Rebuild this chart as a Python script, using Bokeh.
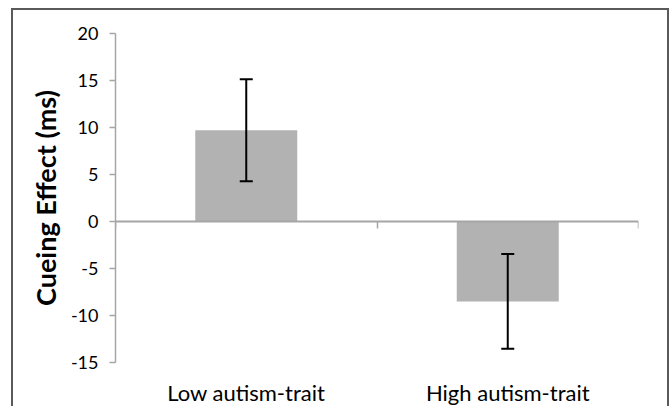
from bokeh.plotting import figure
from bokeh.models import (ColumnDataSource, Range1d, LinearAxis, FixedTicker,
                          SingleIntervalTicker, Whisker, TeeHead, PrintfTickFormatter)
from bokeh.embed import file_html
from bokeh.resources import INLINE

# ---- data ----
categories = ["Low autism-trait", "High autism-trait"]
cueing_effect = [9.7, -8.5]
error = [5.43, 5.05]
y_ticks_interval = 5
y_min, y_max = -15, 20

n = len(categories)
x_pos = [i + 0.5 for i in range(n)]
upper = [m + e for m, e in zip(cueing_effect, error)]
lower = [m - e for m, e in zip(cueing_effect, error)]
src = ColumnDataSource(dict(x=x_pos, y=cueing_effect, upper=upper, lower=lower))

FONT = "Lato"
AXIS_GRAY = "#a6a6a6"

p = figure(frame_width=523, frame_height=329, output_backend="svg", toolbar_location=None,
           x_range=Range1d(0, n), y_range=Range1d(y_min, y_max),
           x_axis_type=None, y_axis_type=None,
           min_border_left=115, min_border_right=32,
           min_border_top=33, min_border_bottom=40)
p.outline_line_color = None
p.xgrid.visible = False
p.ygrid.visible = False
p.background_fill_color = "white"
p.border_fill_color = None
# outer chart frame (left, top, right edges; bottom runs off the picture)
p.styles = {
    "background-color": "white",
    "box-shadow": ("inset 11px 0 0 white, inset 0 8px 0 white, inset -1px 0 0 white, "
                   "inset 13px 0 0 #5a5a5a, inset 0 10px 0 #5a5a5a, inset -3px 0 0 #5a5a5a"),
}

# bars
p.vbar(x="x", top="y", bottom=0, width=0.39, source=src,
       fill_color="#b2b2b2", line_color=None)

# error bars
wh = Whisker(base="x", upper="upper", lower="lower", source=src,
             line_color="black", line_width=2, level="overlay",
             upper_head=TeeHead(size=13, line_color="black", line_width=2),
             lower_head=TeeHead(size=13, line_color="black", line_width=2))
p.add_layout(wh)

# y axis
yaxis = LinearAxis(ticker=SingleIntervalTicker(interval=y_ticks_interval, num_minor_ticks=0),
                   formatter=PrintfTickFormatter(format="%d"))
yaxis.axis_line_color = AXIS_GRAY
yaxis.axis_line_width = 1.5
yaxis.major_tick_line_color = AXIS_GRAY
yaxis.major_tick_line_width = 1.5
yaxis.major_tick_out = 6
yaxis.major_tick_in = 0
yaxis.minor_tick_line_color = None
yaxis.major_label_text_font = FONT
yaxis.major_label_text_font_size = "18px"
yaxis.major_label_text_color = "black"
yaxis.major_label_standoff = 11
yaxis.axis_label = "Cueing Effect (ms)"
yaxis.axis_label_text_font = FONT
yaxis.axis_label_text_font_style = "bold"
yaxis.axis_label_text_font_size = "27px"
yaxis.axis_label_text_color = "black"
yaxis.axis_label_standoff = 6
p.add_layout(yaxis, "left")

# category labels axis at bottom
lab_axis = LinearAxis(ticker=FixedTicker(ticks=x_pos),
                      major_label_overrides={x: c for x, c in zip(x_pos, categories)})
lab_axis.axis_line_color = None
lab_axis.major_tick_line_color = None
lab_axis.minor_tick_line_color = None
lab_axis.major_tick_out = 0
lab_axis.major_tick_in = 0
lab_axis.major_label_text_font = FONT
lab_axis.major_label_text_font_size = "22px"
lab_axis.major_label_text_color = "black"
lab_axis.major_label_standoff = 16
p.add_layout(lab_axis, "below")

# zero axis line with category boundary ticks
zero_axis = LinearAxis(ticker=FixedTicker(ticks=list(range(n + 1))), fixed_location=0)
zero_axis.axis_line_color = AXIS_GRAY
zero_axis.axis_line_width = 2
zero_axis.major_tick_line_color = AXIS_GRAY
zero_axis.major_tick_line_width = 1.5
zero_axis.major_tick_out = 7
zero_axis.major_tick_in = 0
zero_axis.minor_tick_line_color = None
zero_axis.major_label_text_font_size = "0px"
zero_axis.major_label_overrides = {i: "" for i in range(n + 1)}
p.add_layout(zero_axis, "below")

open("out.html", "w").write(file_html(p, INLINE))
